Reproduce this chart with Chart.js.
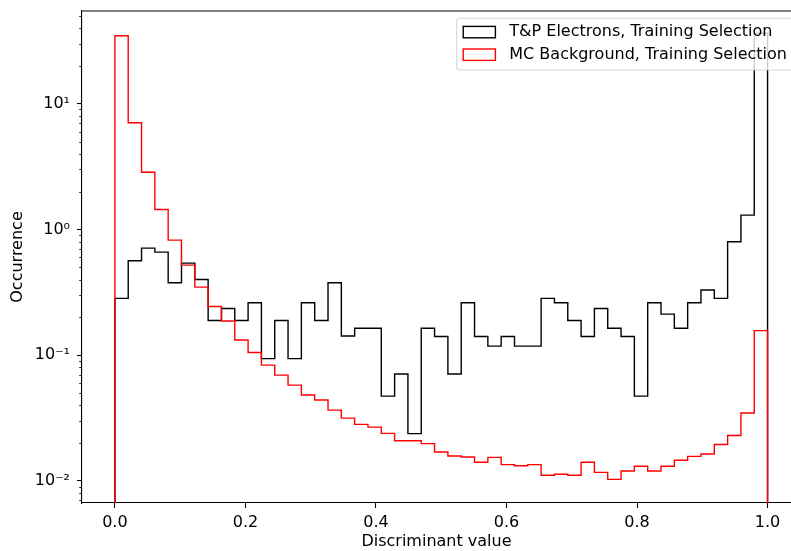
<!DOCTYPE html>
<html>
<head>
<meta charset="utf-8">
<script src="https://cdn.jsdelivr.net/npm/chart.js@4/dist/chart.umd.min.js"></script>
<style>
html,body{margin:0;padding:0;background:#fff;overflow:hidden;}
#wrap{width:791px;height:551px;position:relative;}
</style>
</head>
<body>
<div id="wrap"><canvas id="c" width="791" height="551"></canvas></div>
<script>
// ---- data ----
const BIN_START = 0, BIN_END = 1, N_BINS = 49;
const tpElectrons = [0.283, 0.564, 0.71, 0.66, 0.377, 0.54, 0.40, 0.189, 0.235, 0.189,
  0.261, 0.094, 0.189, 0.094, 0.261, 0.189, 0.377, 0.142, 0.164, 0.164,
  0.0473, 0.0708, 0.0238, 0.164, 0.141, 0.0708, 0.261, 0.141, 0.118, 0.141,
  0.118, 0.118, 0.283, 0.261, 0.189, 0.141, 0.235, 0.164, 0.141, 0.0473,
  0.261, 0.212, 0.164, 0.261, 0.33, 0.283, 0.798, 1.30, 36.3];
const mcBackground = [34.7, 7.05, 2.85, 1.44, 0.822, 0.52, 0.348, 0.244, 0.187, 0.132,
  0.105, 0.0834, 0.0695, 0.0578, 0.0482, 0.0440, 0.0366, 0.0316, 0.0282, 0.0268,
  0.0239, 0.0209, 0.0209, 0.0198, 0.0170, 0.0158, 0.0155, 0.0141, 0.0154, 0.0135,
  0.0132, 0.0135, 0.0111, 0.0113, 0.0111, 0.0141, 0.0117, 0.0103, 0.0120, 0.0131,
  0.0120, 0.0131, 0.0146, 0.0157, 0.0164, 0.0195, 0.0230, 0.0347, 0.157];
const seriesLabels = ['T&P Electrons, Training Selection', 'MC Background, Training Selection'];
const seriesColors = ['#000000', '#ff0000'];
const xTickValues = [0, 0.2, 0.4, 0.6, 0.8, 1.0];
const xTickLabels = ['0.0', '0.2', '0.4', '0.6', '0.8', '1.0'];
const yMajorTicks = [1e-2, 1e-1, 1e0, 1e1];
const yTickLabels = ['10\u207B\u00B2', '10\u207B\u00B9', '10\u2070', '10\u00B9'];
const xTitle = 'Discriminant value';
const yTitle = 'Occurrence';

// ---- axis limits ----
const X_MIN = -0.0504, X_MAX = 1.0359;
const Y_MIN = 0.00668, Y_MAX = 54.6;
const Y_FLOOR = 1e-6; // histogram closes down to zero (off-axis on log scale)

const FONT = '"DejaVu Sans", sans-serif';
const FS = 16;

function stepPoints(vals) {
  const w = (BIN_END - BIN_START) / N_BINS;
  const pts = [{x: BIN_START, y: Y_FLOOR}];
  vals.forEach((v, i) => pts.push({x: BIN_START + i * w, y: v}));
  pts.push({x: BIN_END, y: vals[vals.length - 1]});
  pts.push({x: BIN_END, y: Y_FLOOR});
  return pts;
}

const decorPlugin = {
  id: 'decor',
  afterDraw(chart) {
    const ctx = chart.ctx;
    const ca = chart.chartArea;
    const ys = chart.scales.y;
    ctx.save();
    // top spine
    ctx.strokeStyle = '#000';
    ctx.lineWidth = 1.1;
    ctx.beginPath();
    ctx.moveTo(ca.left - 0.5, ca.top);
    ctx.lineTo(ca.right + 2, ca.top);
    ctx.stroke();
    // minor log ticks
    ctx.lineWidth = 0.85;
    for (let k = -3; k <= 2; k++) {
      for (let m = 2; m <= 9; m++) {
        const v = m * Math.pow(10, k);
        if (v < Y_MIN || v > Y_MAX) continue;
        const py = Math.round(ys.getPixelForValue(v)) + 0.5;
        ctx.beginPath();
        ctx.moveTo(ca.left - 2.8, py);
        ctx.lineTo(ca.left, py);
        ctx.stroke();
      }
    }
    // legend
    const lx = 456.7, ly = 18.3, lw = 337, lh = 51.7, r = 3;
    ctx.beginPath();
    ctx.moveTo(lx + r, ly);
    ctx.lineTo(lx + lw - r, ly);
    ctx.arcTo(lx + lw, ly, lx + lw, ly + r, r);
    ctx.lineTo(lx + lw, ly + lh - r);
    ctx.arcTo(lx + lw, ly + lh, lx + lw - r, ly + lh, r);
    ctx.lineTo(lx + r, ly + lh);
    ctx.arcTo(lx, ly + lh, lx, ly + lh - r, r);
    ctx.lineTo(lx, ly + r);
    ctx.arcTo(lx, ly, lx + r, ly, r);
    ctx.closePath();
    ctx.fillStyle = 'rgba(255,255,255,0.8)';
    ctx.fill();
    ctx.strokeStyle = 'rgba(204,204,204,0.8)';
    ctx.lineWidth = 1.1;
    ctx.stroke();
    const rows = [32.2, 54.8];
    ctx.font = FS + 'px ' + FONT;
    ctx.textBaseline = 'middle';
    ctx.textAlign = 'left';
    seriesLabels.forEach((lab, i) => {
      const cy = rows[i];
      ctx.strokeStyle = seriesColors[i];
      ctx.lineWidth = 1.4;
      ctx.strokeRect(463.2, cy - 5.8, 32.2, 11.4);
      ctx.fillStyle = '#000';
      ctx.fillText(lab, 509.3, cy);
    });
    ctx.restore();
  }
};

new Chart(document.getElementById('c'), {
  type: 'line',
  data: {
    datasets: [
      {label: seriesLabels[0], data: stepPoints(tpElectrons), borderColor: seriesColors[0],
       borderWidth: 1.4, stepped: 'before', pointRadius: 0, fill: false, order: 1, clip: 0},
      {label: seriesLabels[1], data: stepPoints(mcBackground), borderColor: seriesColors[1],
       borderWidth: 1.4, stepped: 'before', pointRadius: 0, fill: false, order: 0, clip: 0}
    ]
  },
  options: {
    responsive: false,
    animation: false,
    devicePixelRatio: 1,
    layout: {autoPadding: false, padding: {top: 11, right: 0, bottom: 0, left: 0}},
    plugins: {legend: {display: false}, tooltip: {enabled: false}},
    scales: {
      x: {
        type: 'linear', min: X_MIN, max: X_MAX,
        afterBuildTicks: s => { s.ticks = xTickValues.map(v => ({value: v})); },
        afterFit: s => { s.height = 48; s.paddingLeft = 0; s.paddingRight = 0; },
        ticks: {autoSkip: false, maxRotation: 0, padding: 5, color: '#000',
                font: {family: FONT, size: FS}, callback: (v, i) => xTickLabels[i]},
        grid: {drawOnChartArea: false, tickLength: 5, tickColor: '#000', tickWidth: 1.1},
        border: {color: '#000', width: 1.1},
        title: {display: true, text: xTitle, color: '#000', font: {family: FONT, size: FS},
                padding: {top: 0, bottom: 0}}
      },
      y: {
        type: 'logarithmic', min: Y_MIN, max: Y_MAX,
        afterBuildTicks: s => { s.ticks = yMajorTicks.map(v => ({value: v})); },
        afterFit: s => { s.width = 82; s.paddingTop = 0; s.paddingBottom = 0; },
        ticks: {autoSkip: false, padding: 7, color: '#000',
                font: {family: FONT, size: FS, lineHeight: 0.5}, callback: (v, i) => yTickLabels[i]},
        grid: {drawOnChartArea: false, tickLength: 5, tickColor: '#000', tickWidth: 1.1},
        border: {color: '#000', width: 1.1},
        title: {display: true, text: yTitle, color: '#000', font: {family: FONT, size: FS},
                padding: {top: 8, bottom: 0}}
      }
    }
  },
  plugins: [decorPlugin]
});
</script>
</body>
</html>
